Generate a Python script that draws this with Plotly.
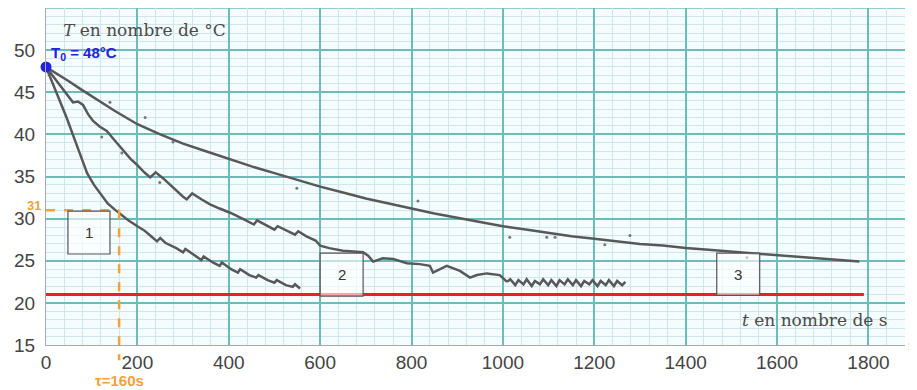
import plotly.graph_objects as go

# ---------------- data ----------------
# curve 1 (fast cooling)
t1 = [0, 15, 30, 45, 60, 75, 90, 105, 120, 135, 150, 165, 180, 200, 215, 230, 243, 250, 262, 285, 300, 305,
      325, 340, 345, 365, 380, 385, 405, 420, 425, 445, 460, 465, 485, 500, 505, 525, 540, 545, 556]
T1 = [48, 46.0, 44.2, 42.0, 39.8, 37.6, 35.4, 34.0, 32.9, 31.8, 31.1, 30.4, 29.8, 29.1, 28.6, 27.9, 27.3, 27.7,
      27.1, 26.5, 26.0, 26.4, 25.6, 25.1, 25.5, 24.8, 24.4, 24.8, 24.0, 23.6, 24.0, 23.3, 23.0, 23.3, 22.7,
      22.4, 22.7, 22.1, 21.9, 22.2, 21.7]

# curve 2 (intermediate cooling, stepped)
t2 = [0, 20, 40, 59, 70, 81, 92, 103, 118, 133, 150, 169, 185, 199, 215, 228, 240, 256, 270, 286, 300, 308,
      320, 340, 359, 380, 403, 430, 455, 462, 480, 500, 507, 525, 545, 552, 570, 590, 600, 620, 650, 694,
      705, 716, 737, 760, 790, 818, 840, 847, 862, 877, 906, 928, 943, 965, 993, 1009]
T2 = [48, 46.6, 45.1, 43.8, 43.9, 43.5, 42.4, 41.6, 40.9, 40.4, 39.3, 38.1, 37.1, 36.4, 35.5, 34.9, 35.5, 34.8,
      34.1, 33.2, 32.6, 32.3, 33.0, 32.3, 31.7, 31.2, 30.7, 30.0, 29.3, 29.8, 29.3, 28.7, 29.1, 28.6, 28.1,
      28.5, 27.9, 27.4, 26.8, 26.5, 26.2, 26.0, 25.6, 24.9, 25.3, 25.2, 24.7, 24.6, 24.4, 23.6, 24.0, 24.4,
      23.8, 23.0, 23.3, 23.5, 23.3, 22.5]
# end of curve 2 (hatched noisy part)
t2b = [1009, 1016, 1027, 1034, 1045, 1052, 1063, 1070, 1081, 1088, 1099, 1106, 1117, 1124, 1135, 1142, 1153,
       1160, 1171, 1178, 1189, 1196, 1207, 1214, 1225, 1232, 1243, 1250, 1261, 1268]
T2b = [22.5, 22.8, 22.1, 22.7, 22.2, 22.8, 22.0, 22.6, 22.2, 22.8, 22.1, 22.7, 22.0, 22.7, 22.2, 22.8, 22.1,
       22.7, 22.0, 22.6, 22.2, 22.7, 22.0, 22.6, 22.1, 22.7, 22.0, 22.6, 22.1, 22.5]

# curve 3 (slow cooling)
t3 = [0, 25, 50, 75, 100, 125, 150, 175, 200, 250, 300, 350, 400, 450, 500, 550, 600, 650, 700, 750, 800,
      850, 900, 950, 1000, 1050, 1100, 1150, 1200, 1250, 1300, 1350, 1400, 1450, 1500, 1550, 1600, 1650,
      1700, 1750, 1780]
T3 = [48, 47.2, 46.3, 45.4, 44.5, 43.6, 42.8, 42.0, 41.2, 40.0, 38.9, 38.0, 37.1, 36.2, 35.4, 34.6, 33.8,
      33.1, 32.4, 31.8, 31.2, 30.6, 30.1, 29.6, 29.1, 28.7, 28.3, 27.9, 27.6, 27.3, 27.0, 26.8, 26.5, 26.3,
      26.1, 25.9, 25.7, 25.5, 25.3, 25.1, 24.9]

# stray measurement points
t_out = [140, 217, 278, 122, 166, 249, 549, 814, 1015, 1096, 1114, 1223, 1278, 1534]
T_out = [43.8, 42.0, 39.1, 39.7, 37.8, 34.3, 33.6, 32.1, 27.8, 27.8, 27.8, 26.9, 28.0, 25.4]

T0 = 48
T_ext = 21
tau = 160
T_tau = 31
t_ext_end = 1790

x_ticks = [0, 200, 400, 600, 800, 1000, 1200, 1400, 1600, 1800]
y_ticks = [15, 20, 25, 30, 35, 40, 45, 50]

boxes = [("1", 48, 140, 25.8, 30.9), ("2", 600, 694, 20.8, 25.9), ("3", 1468, 1562, 20.9, 25.9)]

x_range = [0, 1880]
y_range = [15, 55]

# ---------------- figure ----------------
CURVE = "#585858"
ORANGE = "#f4a13b"
RED = "#e8202a"
BLUE = "#2222e0"
MAJOR = "#6cbcbc"
MINOR = "#cfe7ec"

fig = go.Figure()

for tx, ty in [(t3, T3), (t2, T2), (t2b, T2b), (t1, T1)]:
    fig.add_trace(go.Scatter(x=tx, y=ty, mode="lines", line=dict(color=CURVE, width=2.5),
                             hoverinfo="skip", showlegend=False))
fig.add_trace(go.Scatter(x=t_out, y=T_out, mode="markers", marker=dict(color="#777", size=3),
                         hoverinfo="skip", showlegend=False))

# red ambient line
fig.add_trace(go.Scatter(x=[0, t_ext_end], y=[T_ext, T_ext], mode="lines",
                         line=dict(color=RED, width=3), hoverinfo="skip", showlegend=False))

# blue initial point
fig.add_trace(go.Scatter(x=[0], y=[T0], mode="markers", marker=dict(color=BLUE, size=11),
                         cliponaxis=False, hoverinfo="skip", showlegend=False))

shapes = []
yspan = y_range[1] - y_range[0]
# top grid line of the graph paper
shapes.append(dict(type="line", xref="paper", yref="y", x0=0, x1=1, y0=y_range[1], y1=y_range[1],
                   line=dict(color=MAJOR, width=1.5), layer="below"))
# orange dashed guides
shapes.append(dict(type="line", xref="x", yref="y", x0=0, x1=tau,
                   y0=T_tau, y1=T_tau, line=dict(color=ORANGE, width=2.5, dash="dash")))
shapes.append(dict(type="line", xref="x", yref="paper", x0=tau, x1=tau,
                   y0=(T_tau - y_range[0]) / yspan, y1=-0.045, line=dict(color=ORANGE, width=2.5, dash="dash")))
# numbered boxes
annotations = []
for lab, xa, xb, ya, yb in boxes:
    shapes.append(dict(type="rect", xref="x", yref="y", x0=xa, x1=xb, y0=ya, y1=yb,
                       line=dict(color="#555", width=1.2), fillcolor="rgba(255,255,255,0.6)", layer="above"))
    annotations.append(dict(x=(xa + xb) / 2, y=(ya + yb) / 2, xref="x", yref="y", text=lab, showarrow=False,
                            font=dict(family="Liberation Sans, Arial", size=15, color="#333")))

annotations += [
    dict(x=33, y=52.4, xref="x", yref="y", xanchor="left", yanchor="middle", showarrow=False,
         text="<i>T</i> en nombre de °C",
         font=dict(family="DejaVu Serif, serif", size=17, color="#4a4a4a")),
    dict(x=1518, y=18.0, xref="x", yref="y", xanchor="left", yanchor="middle", showarrow=False,
         text="<i>t</i> en nombre de s",
         font=dict(family="DejaVu Serif, serif", size=17, color="#4a4a4a")),
    dict(x=6, y=49.6, xref="x", yref="y", xanchor="left", yanchor="middle", showarrow=False,
         text="<b>T<sub>0</sub> = 48°C</b>",
         font=dict(family="Liberation Sans, Arial", size=15, color=BLUE)),
    dict(x=-2, y=22.7, xref="x", yref="y", xanchor="left", yanchor="middle", showarrow=False,
         text="<b>T<sub>ext</sub>= 21°C</b>",
         font=dict(family="Liberation Sans, Arial", size=15, color=RED)),
    dict(x=-0.003, y=T_tau + 0.6, xref="paper", yref="y", xanchor="right", yanchor="middle", showarrow=False,
         text="<b>31</b>", font=dict(family="Liberation Sans, Arial", size=13, color=ORANGE)),
    dict(x=tau, y=-0.104, xref="x", yref="paper", xanchor="center", yanchor="middle", showarrow=False,
         text="<b>τ=160s</b>", font=dict(family="Liberation Sans, Arial", size=15, color=ORANGE)),
    # axis arrow head (x axis)
    dict(x=1.0, y=0, xref="paper", yref="paper", xanchor="left", yanchor="middle", showarrow=False,
         text="›", font=dict(family="DejaVu Sans", size=18, color="#aaa")),
]

TICKFONT = dict(family="Liberation Sans, Arial", size=19, color="#444")

fig.update_layout(
    width=917, height=390,
    margin=dict(l=38, r=20, t=0, b=53),
    paper_bgcolor="white",
    plot_bgcolor="#f5fcfd",
    shapes=shapes,
    annotations=annotations,
    xaxis=dict(range=x_range, tickvals=x_ticks, showgrid=True, gridcolor=MAJOR, gridwidth=1.5,
               minor=dict(dtick=40, tick0=0, showgrid=True, gridcolor=MINOR, gridwidth=1),
               zeroline=False, showline=True, linecolor="#aaa", linewidth=1.2, automargin=False,
               ticks="", tickfont=TICKFONT, fixedrange=True),
    yaxis=dict(range=y_range, tickvals=y_ticks, showgrid=True, gridcolor=MAJOR,
               gridwidth=1.5, automargin=False,
               minor=dict(dtick=1, tick0=0, showgrid=True, gridcolor=MINOR, gridwidth=1),
               zeroline=False, showline=True, linecolor="#aaa", linewidth=1.2,
               ticks="", ticklabelstandoff=6, tickfont=TICKFONT, fixedrange=True),
)

fig.write_html("out.html")
